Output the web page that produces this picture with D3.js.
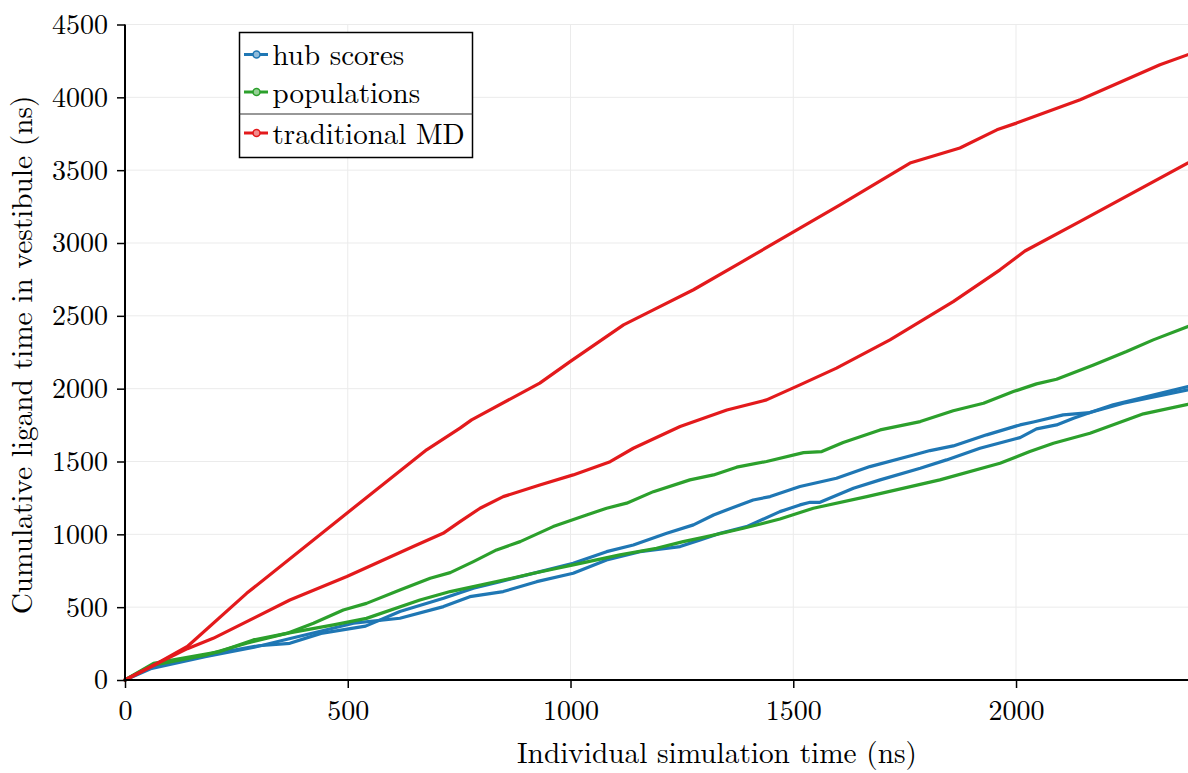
<!DOCTYPE html>
<html><head><meta charset="utf-8">
<script src="https://cdn.jsdelivr.net/npm/d3@7"></script>
</head>
<body style="margin:0;padding:0;background:#fff">
<svg id="chart" width="1188" height="773"></svg>
<script>
// ---- data (x: individual simulation time ns, y: cumulative ns) ----
const hubRunA = [[0,0],[60,90],[180,170],[300,235],[370,252],[440,320],[540,370],[617,470],[715,561],[782,630],[842,675],[932,744],[1006,801],[1081,881],[1141,927],[1216,1007],[1276,1065],[1321,1133],[1380,1202],[1410,1236],[1448,1259],[1515,1328],[1597,1385],[1672,1465],[1770,1545],[1807,1575],[1859,1607],[1934,1683],[2009,1751],[2039,1771],[2106,1820],[2166,1836],[2218,1889],[2386,2014]];
const hubRunB = [[0,0],[60,80],[180,160],[290,225],[378,290],[513,390],[617,424],[715,504],[774,572],[849,607],[924,675],[1006,733],[1081,824],[1156,881],[1246,916],[1291,962],[1336,1007],[1395,1053],[1470,1156],[1515,1202],[1538,1220],[1560,1220],[1635,1316],[1695,1374],[1785,1454],[1844,1511],[1919,1591],[2009,1664],[2046,1724],[2091,1751],[2129,1797],[2166,1836],[2241,1900],[2386,1992]];
const popRunA = [[0,0],[60,100],[180,170],[273,252],[363,320],[423,389],[490,480],[542,526],[617,618],[685,698],[730,737],[782,813],[834,893],[887,950],[961,1053],[1036,1133],[1081,1179],[1126,1214],[1186,1293],[1268,1374],[1321,1408],[1373,1461],[1440,1500],[1523,1561],[1564,1568],[1612,1630],[1695,1717],[1785,1774],[1859,1848],[1927,1900],[1994,1980],[2046,2033],[2091,2065],[2174,2163],[2248,2255],[2308,2335],[2386,2427]];
const popRunB = [[0,0],[64,114],[213,195],[288,275],[363,320],[468,378],[542,423],[662,549],[730,607],[834,675],[917,733],[1006,790],[1111,859],[1193,904],[1253,950],[1306,984],[1388,1042],[1470,1105],[1545,1179],[1665,1259],[1829,1374],[1964,1488],[2031,1568],[2084,1625],[2166,1694],[2286,1827],[2386,1893]];
const mdRunA = [[0,0],[70,110],[140,230],[273,595],[498,1145],[677,1580],[752,1729],[778,1786],[931,2038],[999,2186],[1119,2438],[1186,2541],[1276,2679],[1380,2862],[1515,3102],[1605,3262],[1762,3549],[1874,3652],[1957,3777],[2001,3823],[2144,3984],[2323,4224],[2386,4293]];
const mdRunB = [[0,0],[70,110],[140,215],[198,286],[370,549],[498,710],[647,916],[714,1007],[752,1087],[797,1179],[849,1259],[931,1339],[1006,1408],[1089,1499],[1141,1591],[1246,1740],[1351,1854],[1440,1923],[1515,2026],[1597,2141],[1717,2335],[1859,2598],[1964,2816],[2020,2945],[2144,3148],[2386,3549]];

const seriesNames = ["hub scores","populations","traditional MD"];
const seriesColors = ["#1f77b4","#2ca02c","#e31a1c"];
const seriesRuns = [[hubRunA,hubRunB],[popRunA,popRunB],[mdRunA,mdRunB]];
const xTicks = [0,500,1000,1500,2000];
const yTicks = [0,500,1000,1500,2000,2500,3000,3500,4000,4500];
const xLabel = "Individual simulation time (ns)";
const yLabel = "Cumulative ligand time in vestibule (ns)";

// ---- layout ----
const svg = d3.select("#chart");
const m = {left:125, right:1188, top:24.5, bottom:680};
const x = d3.scaleLinear().domain([0,2386]).range([m.left,m.right]);
const y = d3.scaleLinear().domain([0,4500]).range([m.bottom,m.top]);
const FONT = "Latin Modern Roman";
const fs = 28, fsTitle = 29.3, fsLeg = 29;

// grid
const grid = svg.append("g");
grid.selectAll("line.gx").data(xTicks.slice(1)).join("line")
  .attr("x1",d=>x(d)).attr("x2",d=>x(d)).attr("y1",m.top).attr("y2",m.bottom)
  .attr("stroke","#ebebeb").attr("stroke-width",1);
grid.selectAll("line.gy").data(yTicks.slice(1)).join("line")
  .attr("x1",m.left).attr("x2",m.right).attr("y1",d=>y(d)).attr("y2",d=>y(d))
  .attr("stroke","#ebebeb").attr("stroke-width",1);

// lines
const line = d3.line().x(d=>x(d[0])).y(d=>y(d[1]));
const lines = svg.append("g");
seriesRuns.forEach((runs,i)=>{
  runs.forEach(r=>{
    lines.append("path").datum(r).attr("d",line)
      .attr("fill","none").attr("stroke",seriesColors[i]).attr("stroke-width",3.2)
      .attr("stroke-linejoin","round").attr("stroke-linecap","round");
  });
});

// axes
const xAxis = svg.append("g").attr("transform",`translate(0,${m.bottom})`)
  .call(d3.axisBottom(x).tickValues(xTicks).tickSize(8).tickSizeOuter(0).tickPadding(12).tickFormat(d3.format("d")));
const yAxis = svg.append("g").attr("transform",`translate(${m.left},0)`)
  .call(d3.axisLeft(y).tickValues(yTicks).tickSize(8).tickSizeOuter(0).tickPadding(9).tickFormat(d3.format("d")));
[xAxis,yAxis].forEach(a=>{
  a.attr("font-family",FONT).attr("font-size",fs);
  a.select(".domain").attr("stroke","#000").attr("stroke-width",2);
  a.selectAll(".tick line").attr("stroke","#000").attr("stroke-width",1.5);
  a.selectAll(".tick text").attr("fill","#000");
});
xAxis.select(".domain").attr("d",`M${m.left},0H${m.right}`);
yAxis.select(".domain").attr("d",`M0,${m.bottom}V${m.top}`);

svg.append("text").attr("x",717).attr("y",763).attr("text-anchor","middle")
  .attr("font-family",FONT).attr("font-size",fsTitle).attr("fill","#000").text(xLabel);
svg.append("text").attr("transform","translate(32,355) rotate(-90)").attr("text-anchor","middle")
  .attr("font-family",FONT).attr("font-size",fsTitle).attr("fill","#000").text(yLabel);

// legend
const lg = svg.append("g");
lg.append("rect").attr("x",239.5).attr("y",32.5).attr("width",233).attr("height",125)
  .attr("fill","#fff").attr("stroke","#000").attr("stroke-width",1.5);
lg.append("line").attr("x1",239.5).attr("x2",472.5).attr("y1",114).attr("y2",114)
  .attr("stroke","#333").attr("stroke-width",1.2);
const legLineY = [54.5,92,133];
seriesNames.forEach((n,i)=>{
  const g = lg.append("g").attr("transform",`translate(0,${legLineY[i]})`);
  g.append("line").attr("x1",244).attr("x2",268).attr("y1",0).attr("y2",0)
    .attr("stroke",seriesColors[i]).attr("stroke-width",3);
  const light = d3.interpolateRgb(seriesColors[i],"#fff")(0.5);
  g.append("circle").attr("cx",256.5).attr("cy",0).attr("r",3.5)
    .attr("fill",light).attr("stroke",seriesColors[i]).attr("stroke-width",1.5);
  g.append("text").attr("x",272.5).attr("y",10.5)
    .attr("font-family",FONT).attr("font-size",fsLeg).attr("fill","#000").text(n);
});
</script></body></html>
